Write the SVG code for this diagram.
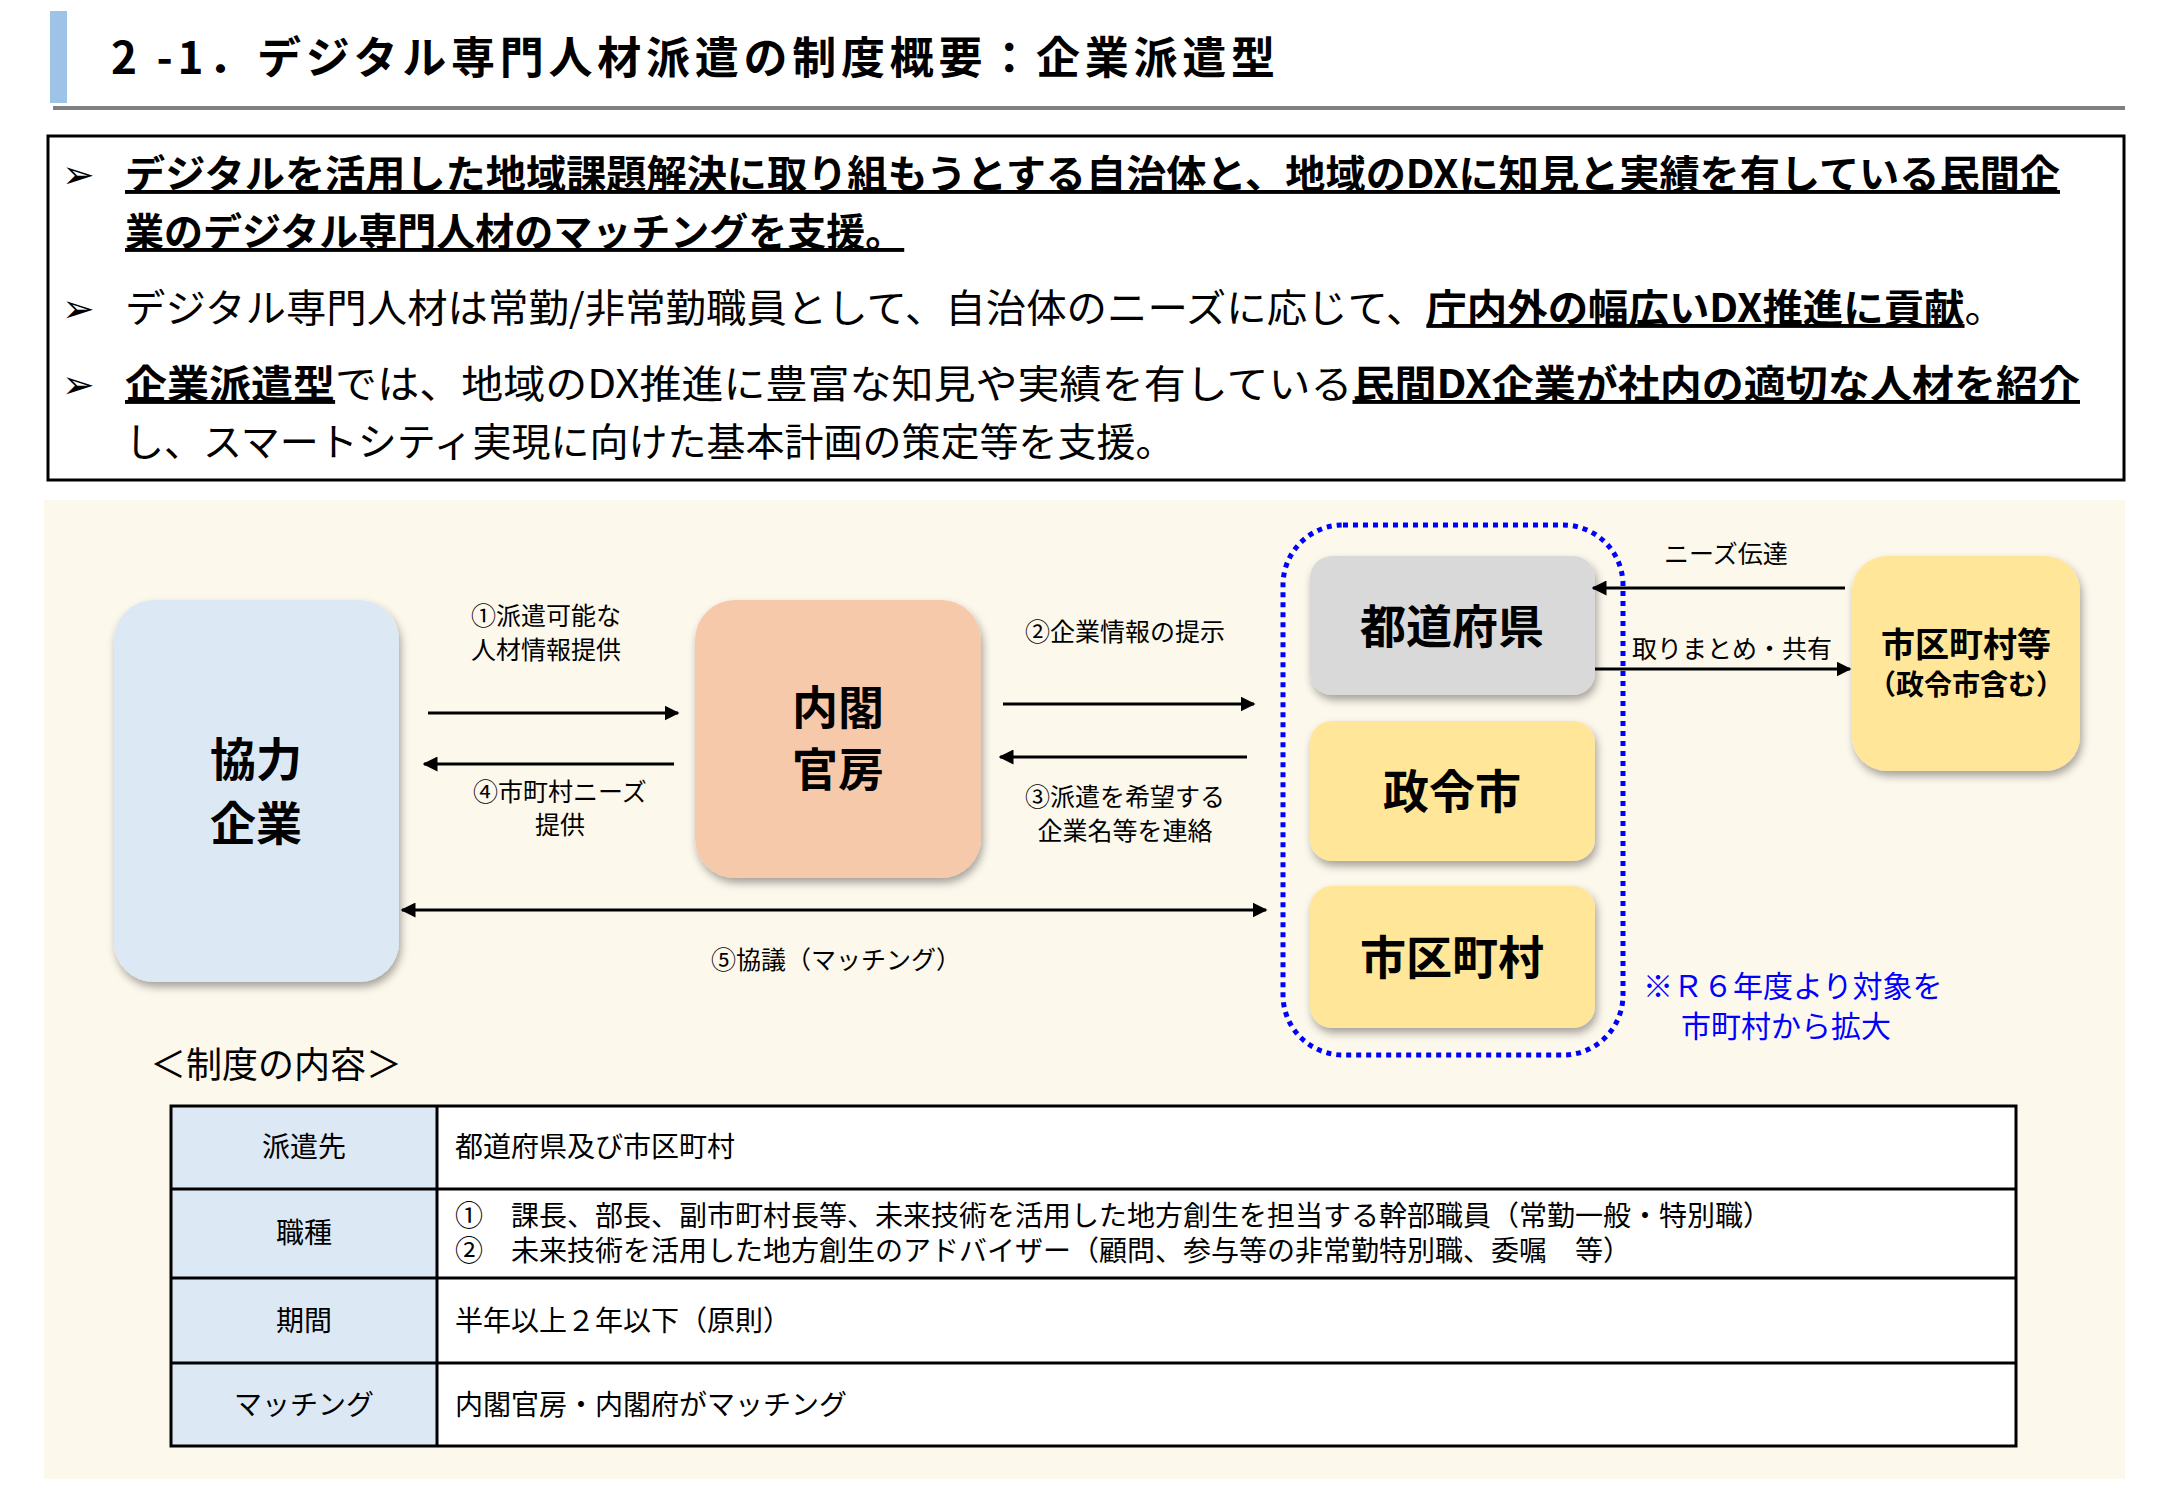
<svg xmlns="http://www.w3.org/2000/svg" width="2167" height="1500" viewBox="0 0 2167 1500">
<style>
text{font-family:"Noto Sans CJK JP","Noto Sans",sans-serif;fill:#000}
.b{font-weight:bold}
.u{text-decoration:underline;font-weight:bold}
.bl{font-size:39px}
.lab{font-size:25px;text-anchor:middle}
.node{font-size:46px;font-weight:bold;text-anchor:middle}
.tb{font-size:28px}
.line{stroke:#000;stroke-width:3;fill:none}
</style>
<defs>
<marker id="ah" viewBox="0 0 10 10" refX="9" refY="5" markerWidth="5" markerHeight="5" orient="auto-start-reverse"><path d="M0,0 L10,5 L0,10 z" fill="#000"/></marker>
<filter id="sh" x="-10%" y="-10%" width="130%" height="130%"><feDropShadow dx="2" dy="5" stdDeviation="4" flood-color="#000" flood-opacity="0.35"/></filter>
</defs>
<rect width="2167" height="1500" fill="#fff"/>
<rect x="50" y="11" width="17" height="92" fill="#9dc3e6"/>
<text x="111" y="74" class="b" font-size="44" textLength="1164" lengthAdjust="spacing">2 -1．デジタル専門人材派遣の制度概要：企業派遣型</text>
<rect x="53" y="106" width="2072" height="4" fill="#808080"/>
<rect x="48" y="136" width="2076" height="344" fill="#fff" stroke="#000" stroke-width="3"/>
<text x="62" y="188" class="bl">➢</text>
<text x="125" y="188" class="bl u" textLength="1935" lengthAdjust="spacingAndGlyphs">デジタルを活用した地域課題解決に取り組もうとする自治体と、地域のDXに知見と実績を有している民間企</text>
<text x="125" y="246" class="bl u">業のデジタル専門人材のマッチングを支援。</text>
<text x="62" y="322" class="bl">➢</text>
<text x="125" y="322" class="bl" textLength="1880" lengthAdjust="spacingAndGlyphs">デジタル専門人材は常勤/非常勤職員として、自治体のニーズに応じて、<tspan class="u">庁内外の幅広いDX推進に貢献</tspan>。</text>
<text x="62" y="398" class="bl">➢</text>
<text x="125" y="398" class="bl" textLength="1955" lengthAdjust="spacingAndGlyphs"><tspan class="u">企業派遣型</tspan>では、地域のDX推進に豊富な知見や実績を有している<tspan class="u">民間DX企業が社内の適切な人材を紹介</tspan></text>
<text x="125" y="456" class="bl">し、スマートシティ実現に向けた基本計画の策定等を支援。</text>
<rect x="44" y="500" width="2081" height="979" fill="#fdf8ec"/>
<g id="kyoryoku"><rect x="114" y="600" width="285" height="382" rx="40" fill="#dde8f5" filter="url(#sh)"/><text x="256" y="776" class="node">協力</text><text x="256" y="840" class="node">企業</text></g>
<g id="naikaku"><rect x="695" y="600" width="286" height="278" rx="40" fill="#f6c9ab" filter="url(#sh)"/><text x="838" y="724" class="node">内閣</text><text x="838" y="786" class="node">官房</text></g>
<g id="group"><rect x="1283" y="525" width="340" height="530" rx="60" fill="none" stroke="#0000ff" stroke-width="5" stroke-dasharray="5,5"/></g>
<g id="todofuken"><rect x="1310" y="556" width="285" height="139" rx="22" fill="#d9d9d9" filter="url(#sh)"/><text x="1452" y="643" class="node">都道府県</text></g>
<g id="seireishi"><rect x="1310" y="721" width="285" height="140" rx="22" fill="#ffe699" filter="url(#sh)"/><text x="1452" y="808" class="node">政令市</text></g>
<g id="shikuchoson"><rect x="1310" y="886" width="285" height="142" rx="22" fill="#ffe699" filter="url(#sh)"/><text x="1452" y="974" class="node">市区町村</text></g>
<g id="shikuchosonra"><rect x="1852" y="556" width="228" height="215" rx="35" fill="#ffe699" filter="url(#sh)"/><text x="1966" y="657" font-size="34" class="b" text-anchor="middle">市区町村等</text><text x="1966" y="695" font-size="28" class="b" text-anchor="middle">（政令市含む）</text></g>
<g id="connectors">
<line x1="428" y1="713" x2="678" y2="713" class="line" marker-end="url(#ah)"/>
<line x1="674" y1="764" x2="424" y2="764" class="line" marker-end="url(#ah)"/>
<line x1="1003" y1="704" x2="1254" y2="704" class="line" marker-end="url(#ah)"/>
<line x1="1247" y1="757" x2="1000" y2="757" class="line" marker-end="url(#ah)"/>
<line x1="402" y1="910" x2="1266" y2="910" class="line" marker-start="url(#ah)" marker-end="url(#ah)"/>
<line x1="1845" y1="588" x2="1593" y2="588" class="line" marker-end="url(#ah)"/>
<line x1="1595" y1="669" x2="1850" y2="669" class="line" marker-end="url(#ah)"/>
</g>
<g id="labels">
<text x="546" y="625" class="lab">①派遣可能な</text>
<text x="546" y="659" class="lab">人材情報提供</text>
<text x="1125" y="641" class="lab">②企業情報の提示</text>
<text x="560" y="801" class="lab">④市町村ニーズ</text>
<text x="560" y="834" class="lab">提供</text>
<text x="1125" y="806" class="lab">③派遣を希望する</text>
<text x="1125" y="840" class="lab">企業名等を連絡</text>
<text x="836" y="969" class="lab">⑤協議（マッチング）</text>
<text x="1726" y="563" class="lab">ニーズ伝達</text>
<text x="1732" y="658" class="lab">取りまとめ・共有</text>
<text x="1643" y="997" font-size="30" style="fill:#0000ff">※Ｒ６年度より対象を</text>
<text x="1681" y="1037" font-size="30" style="fill:#0000ff">市町村から拡大</text>
</g>
<text x="150" y="1078" font-size="36">＜制度の内容＞</text>
<g id="table">
<rect x="171" y="1106" width="266" height="340" fill="#dde8f5"/>
<rect x="437" y="1106" width="1579" height="340" fill="#fff"/>
<rect x="171" y="1106" width="1845" height="340" fill="none" stroke="#000" stroke-width="3"/>
<line x1="437" y1="1106" x2="437" y2="1446" stroke="#000" stroke-width="3"/>
<line x1="171" y1="1189" x2="2016" y2="1189" stroke="#000" stroke-width="3"/>
<line x1="171" y1="1278" x2="2016" y2="1278" stroke="#000" stroke-width="3"/>
<line x1="171" y1="1363" x2="2016" y2="1363" stroke="#000" stroke-width="3"/>
<text x="304" y="1157" class="tb" text-anchor="middle">派遣先</text>
<text x="455" y="1157" class="tb">都道府県及び市区町村</text>
<text x="304" y="1243" class="tb" text-anchor="middle">職種</text>
<text x="455" y="1226" class="tb">①　課長、部長、副市町村長等、未来技術を活用した地方創生を担当する幹部職員（常勤一般・特別職）</text>
<text x="455" y="1261" class="tb">②　未来技術を活用した地方創生のアドバイザー（顧問、参与等の非常勤特別職、委嘱　等）</text>
<text x="304" y="1331" class="tb" text-anchor="middle">期間</text>
<text x="455" y="1331" class="tb">半年以上２年以下（原則）</text>
<text x="304" y="1415" class="tb" text-anchor="middle">マッチング</text>
<text x="455" y="1415" class="tb">内閣官房・内閣府がマッチング</text>
</g>
</svg>
